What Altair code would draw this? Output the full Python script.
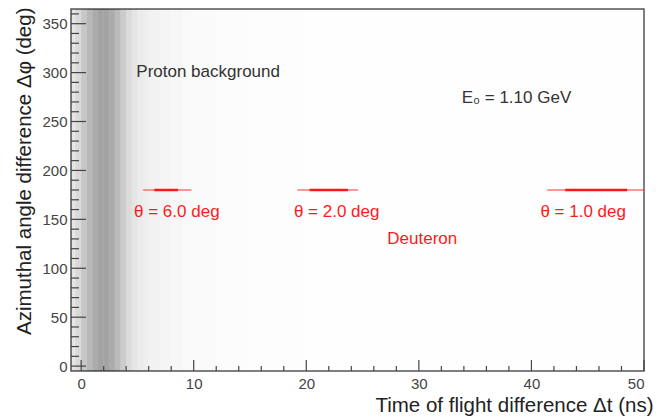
import altair as alt
import pandas as pd

# ---- data ----
# proton background: relative point density along Δt (uniform along Δφ)
bg_lo = [-0.9, -0.5, 0.0, 0.5, 1.0, 1.5, 2.0, 2.5, 3.0, 3.5, 4.0, 4.5, 5.0, 5.5, 6.0, 7.0, 8.0, 9.0, 10.0, 12.0, 15.0, 20.0]
bg_hi = [-0.5, 0.0, 0.5, 1.0, 1.5, 2.0, 2.5, 3.0, 3.5, 4.0, 4.5, 5.0, 5.5, 6.0, 7.0, 8.0, 9.0, 10.0, 12.0, 15.0, 20.0, 50.0]
bg_den = [0.10, 0.15, 0.22, 0.28, 0.33, 0.36, 0.36, 0.33, 0.27, 0.20, 0.14, 0.10, 0.08, 0.065, 0.05, 0.04, 0.032, 0.025, 0.018, 0.012, 0.008, 0.004]

# deuteron bands at Δφ = 180 deg
d_lo_faint = [5.5, 19.2, 41.4]
d_hi_faint = [9.8, 24.6, 50.0]
d_lo_core = [6.5, 20.3, 43.0]
d_hi_core = [8.6, 23.7, 48.5]
d_phi = [180, 180, 180]

# annotations
txt_labels = ["Proton background", "E\u2080 = 1.10 GeV", "\u03b8 = 6.0 deg", "\u03b8 = 2.0 deg", "\u03b8 = 1.0 deg", "Deuteron"]
txt_x = [4.9, 33.8, 4.7, 18.9, 40.8, 27.2]
txt_y = [301, 274, 158, 158, 158, 130]
txt_color = ["#333333", "#333333", "#ff1a1a", "#ff1a1a", "#ff1a1a", "#ff1a1a"]

x_major = [0, 10, 20, 30, 40, 50]
x_minor = [v for v in range(2, 50, 2) if v % 10 != 0]
y_major = [0, 50, 100, 150, 200, 250, 300, 350]
y_minor = [v for v in range(0, 361, 10) if v % 50 != 0]

W, H = 573, 362
FONT = "Liberation Sans"

xs = alt.Scale(domain=[-0.9, 50], nice=False, zero=False)
ys = alt.Scale(domain=[-5, 365], nice=False, zero=False)

bg = pd.DataFrame({"lo": bg_lo, "hi": bg_hi, "den": bg_den})
background = alt.Chart(bg).mark_rect(color="black").encode(
    x=alt.X("lo:Q", scale=xs, axis=alt.Axis(
        values=x_major, title="Time of flight difference \u0394t (ns)",
        titleAnchor="end", titleAlign="right", titleX=W + 9, titleY=40,
        titleBaseline="alphabetic", labelPadding=5)),
    x2="hi:Q",
    y=alt.value(0),
    y2=alt.value(H),
    opacity=alt.Opacity("den:Q", scale=None),
)

# y axis carrier
yaxis = alt.Chart(pd.DataFrame({"v": y_major})).mark_rule(opacity=0).encode(
    y=alt.Y("v:Q", scale=ys, axis=alt.Axis(
        values=y_major, title="Azimuthal angle difference \u0394\u03c6 (deg)",
        titleAngle=-90, titleAlign="right", titleX=-47, titleY=-2,
        titleBaseline="middle", labelPadding=4)),
    x=alt.value(0), x2=alt.value(1),
)

deut = pd.DataFrame({"lo": d_lo_faint, "hi": d_hi_faint, "lo2": d_lo_core, "hi2": d_hi_core, "phi": d_phi})
deut_faint = alt.Chart(deut).mark_rule(color="#ff3030", strokeWidth=2, opacity=0.5).encode(
    x=alt.X("lo:Q", scale=xs), x2="hi:Q", y=alt.Y("phi:Q", scale=ys))
deut_core = alt.Chart(deut).mark_rule(color="#ff0000", strokeWidth=2.5, opacity=0.85).encode(
    x=alt.X("lo2:Q", scale=xs), x2="hi2:Q", y=alt.Y("phi:Q", scale=ys))

txt = pd.DataFrame({"t": txt_labels, "x": txt_x, "y": txt_y, "c": txt_color})
texts = alt.Chart(txt).mark_text(align="left", baseline="middle", fontSize=17, font=FONT).encode(
    x=alt.X("x:Q", scale=xs), y=alt.Y("y:Q", scale=ys), text="t:N",
    color=alt.Color("c:N", scale=None))

tick_col = "#444444"
xmaj = alt.Chart(pd.DataFrame({"v": x_major})).mark_rule(color=tick_col, strokeWidth=1.2).encode(
    x=alt.X("v:Q", scale=xs), y=alt.value(H), y2=alt.value(H - 11))
xmin = alt.Chart(pd.DataFrame({"v": x_minor})).mark_rule(color=tick_col, strokeWidth=1.2).encode(
    x=alt.X("v:Q", scale=xs), y=alt.value(H), y2=alt.value(H - 5))
ymaj = alt.Chart(pd.DataFrame({"v": y_major})).mark_rule(color=tick_col, strokeWidth=1.2).encode(
    y=alt.Y("v:Q", scale=ys), x=alt.value(0), x2=alt.value(15))
ymin = alt.Chart(pd.DataFrame({"v": y_minor})).mark_rule(color=tick_col, strokeWidth=1.2).encode(
    y=alt.Y("v:Q", scale=ys), x=alt.value(0), x2=alt.value(8))

chart = alt.layer(background, yaxis, deut_faint, deut_core, xmaj, xmin, ymaj, ymin, texts).properties(
    width=W, height=H,
    autosize=alt.AutoSizeParams(type="none"),
    padding={"left": 63, "top": 1, "right": 10, "bottom": 48},
).configure_view(
    stroke="#555555", strokeWidth=1.5
).configure_axis(
    ticks=False, domain=False, grid=False,
    labelFont=FONT, labelFontSize=15, labelColor="#444444",
    titleFont=FONT, titleFontSize=20.5, titleColor="#222222", titleFontWeight="normal",
)

chart.save("out.html", embed_options={"renderer": "svg", "actions": False})
